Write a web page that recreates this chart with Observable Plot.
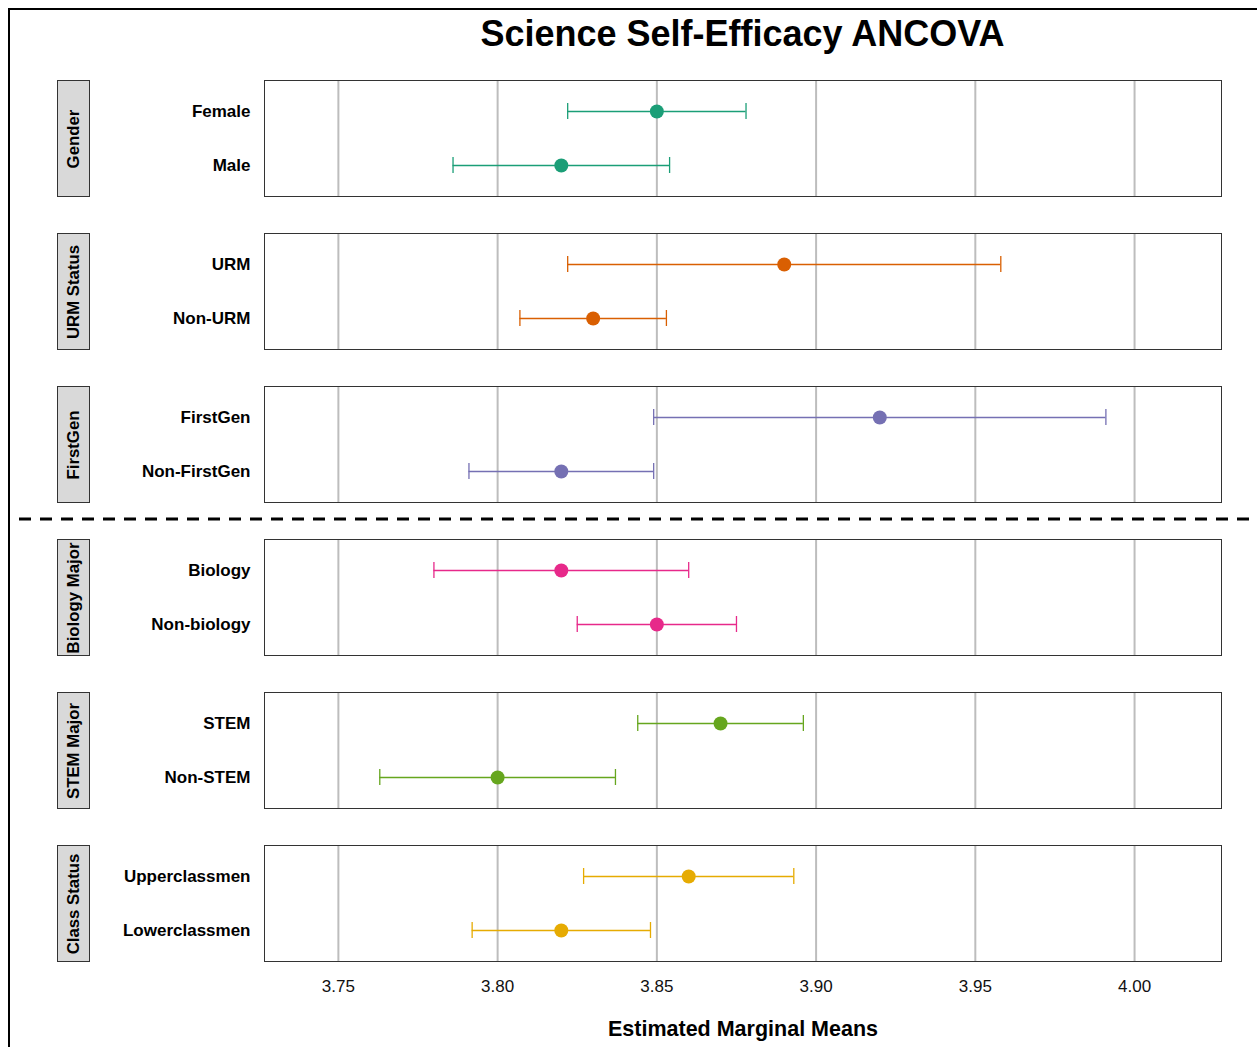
<!DOCTYPE html>
<html>
<head>
<meta charset="utf-8">
<script src="https://cdn.jsdelivr.net/npm/d3@7"></script>
<script src="https://cdn.jsdelivr.net/npm/@observablehq/plot@0.6"></script>
<style>
  html, body { margin: 0; padding: 0; background: #fff; }
  body { width: 1257px; height: 1047px; position: relative; overflow: hidden; font-family: "Liberation Sans", Arial, sans-serif; }
  .pageframe { position: absolute; left: 8px; top: 8px; width: 1260px; height: 1060px; border-left: 2px solid #000; border-top: 2px solid #000; }
  .title { position: absolute; left: 264px; width: 957px; top: 13px; text-align: center; font-size: 36px; font-weight: bold; color: #000; }
  .strip { position: absolute; left: 57px; width: 31px; height: 115px; background: #d9d9d9; border: 1px solid #333; }
  .strip span { position: absolute; left: 50%; top: 50%; transform: translate(-50%, -50%) rotate(-90deg); white-space: nowrap; font-size: 16.8px; font-weight: bold; color: #000; }
  .panel { position: absolute; left: 100px; }
  .panel svg { overflow: visible; }
  [aria-label="x-axis label"] { font-size: 21.5px; font-weight: bold; fill: #000; }
  .dash { position: absolute; left: 0; top: 0; }
</style>
</head>
<body>
<div class="pageframe"></div>
<div class="title">Science Self-Efficacy ANCOVA</div>
<svg class="dash" width="1257" height="1047"><line x1="19" x2="1257" y1="519" y2="519" stroke="#000" stroke-width="3" stroke-dasharray="12,9"/></svg>
<div id="root"></div>
<script>
// ---- data ----
const groups = ["Gender", "URM Status", "FirstGen", "Biology Major", "STEM Major", "Class Status"];
const levels = [
  ["Female", "Male"],
  ["URM", "Non-URM"],
  ["FirstGen", "Non-FirstGen"],
  ["Biology", "Non-biology"],
  ["STEM", "Non-STEM"],
  ["Upperclassmen", "Lowerclassmen"]
];
const estimates = [
  [3.850, 3.820],
  [3.890, 3.830],
  [3.920, 3.820],
  [3.820, 3.850],
  [3.870, 3.800],
  [3.860, 3.820]
];
const lower = [
  [3.822, 3.786],
  [3.822, 3.807],
  [3.849, 3.791],
  [3.780, 3.825],
  [3.844, 3.763],
  [3.827, 3.792]
];
const upper = [
  [3.878, 3.854],
  [3.958, 3.853],
  [3.991, 3.849],
  [3.860, 3.875],
  [3.896, 3.837],
  [3.893, 3.848]
];
const colors = ["#1b9e77", "#d95f02", "#7570b3", "#e7298a", "#66a61e", "#e6ab02"];
const tickValues = [3.75, 3.80, 3.85, 3.90, 3.95, 4.00];
const xDomain = [3.7268, 4.0273];
const xLabel = "Estimated Marginal Means";

// ---- layout ----
const root = document.getElementById("root");
const panelTop0 = 80, panelStep = 153, panelH = 116;

groups.forEach((g, gi) => {
  const rows = levels[gi].map((lv, j) => ({level: lv, est: estimates[gi][j], lo: lower[gi][j], hi: upper[gi][j]}));
  const isLast = gi === groups.length - 1;
  const top = panelTop0 + panelStep * gi;

  const strip = document.createElement("div");
  strip.className = "strip";
  strip.style.top = top + "px";
  strip.innerHTML = `<span>${g}</span>`;
  root.appendChild(strip);

  const marks = [
    Plot.ruleX(tickValues, {stroke: "#bdbdbd", strokeWidth: 2}),
    Plot.frame({stroke: "#333", strokeWidth: 1}),
    Plot.ruleY(rows, {y: "level", x1: "lo", x2: "hi", stroke: colors[gi], strokeWidth: 1.3}),
    Plot.tickX(rows, {x: "lo", y: "level", stroke: colors[gi], strokeWidth: 1.3, insetTop: 15, insetBottom: 15}),
    Plot.tickX(rows, {x: "hi", y: "level", stroke: colors[gi], strokeWidth: 1.3, insetTop: 15, insetBottom: 15}),
    Plot.dot(rows, {x: "est", y: "level", r: 7, fill: colors[gi], stroke: null}),
    Plot.axisY({tickSize: 0, tickPadding: 14, fontSize: 17, fontWeight: "bold", label: null, fill: "#000"})
  ];
  if (isLast) {
    marks.push(Plot.axisX(tickValues, {tickSize: 0, tickPadding: 18, fontSize: 17, tickFormat: d3.format(".2f"),
      label: xLabel, labelAnchor: "center", labelArrow: "none", labelOffset: 74, fill: "#111"}));
  } else {
    marks.push(Plot.axisX({ticks: [], label: null}));
  }

  const chart = Plot.plot({
    width: 1122,
    height: panelH + 2 + (isLast ? 86 : 0),
    marginLeft: 164,
    marginRight: 1,
    marginTop: 1,
    marginBottom: 1 + (isLast ? 86 : 0),
    style: {fontFamily: "'Liberation Sans', Arial, sans-serif", background: "transparent", overflow: "visible"},
    x: {domain: xDomain},
    y: {type: "band", domain: levels[gi], padding: 0.148},
    marks
  });
  const wrap = document.createElement("div");
  wrap.className = "panel";
  wrap.style.top = (top - 1) + "px";
  wrap.appendChild(chart);
  root.appendChild(wrap);
});
</script>
</body>
</html>
